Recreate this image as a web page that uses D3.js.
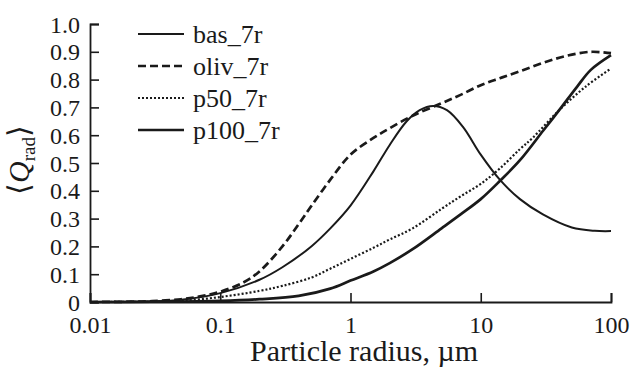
<!DOCTYPE html>
<html>
<head>
<meta charset="utf-8">
<script src="https://cdn.jsdelivr.net/npm/d3@7"></script>
<style>
body { margin: 0; background: #fff; }
text { font-family: "Liberation Serif", "Times New Roman", serif; fill: #1a1a1a; }
</style>
</head>
<body>
<svg id="chart" width="634" height="367"></svg>
<script>
// values (radius in um, <Q_rad>)
var basR  = [0.01, 0.03, 0.05, 0.1, 0.2, 0.3, 0.5, 0.7, 1, 1.5, 2, 2.7, 3.4, 4.3, 5.5, 7.3, 10, 14, 20, 30, 50, 75, 100];
var basQ  = [0, 0.002, 0.008, 0.032, 0.08, 0.125, 0.2, 0.265, 0.347, 0.47, 0.565, 0.65, 0.69, 0.705, 0.69, 0.63, 0.53, 0.44, 0.37, 0.315, 0.268, 0.256, 0.255];

var olivR = [0.01, 0.02, 0.03, 0.05, 0.07, 0.1, 0.15, 0.2, 0.3, 0.4, 0.5, 0.7, 1, 1.5, 2, 3, 5, 7, 10, 14, 20, 30, 45, 70, 100];
var olivQ = [0, 0.001, 0.003, 0.01, 0.02, 0.037, 0.07, 0.11, 0.2, 0.28, 0.345, 0.44, 0.53, 0.59, 0.625, 0.67, 0.715, 0.745, 0.78, 0.805, 0.83, 0.86, 0.885, 0.9, 0.895];

var p50R  = [0.01, 0.03, 0.05, 0.1, 0.2, 0.3, 0.5, 0.7, 1, 1.5, 2, 3, 5, 7, 10, 14, 20, 25, 40, 64, 100];
var p50Q  = [0, 0.001, 0.004, 0.018, 0.04, 0.058, 0.088, 0.12, 0.155, 0.195, 0.225, 0.265, 0.335, 0.38, 0.425, 0.48, 0.55, 0.59, 0.69, 0.775, 0.84];

var p100R = [0.01, 0.03, 0.1, 0.2, 0.4, 0.7, 1, 1.5, 2, 3, 5, 7, 10, 14, 20, 30, 40, 55, 70, 100];
var p100Q = [0, 0.001, 0.004, 0.01, 0.022, 0.048, 0.077, 0.11, 0.14, 0.19, 0.265, 0.315, 0.37, 0.435, 0.51, 0.615, 0.69, 0.775, 0.835, 0.888];

var seriesNames = ["bas_7r", "oliv_7r", "p50_7r", "p100_7r"];
var xTicks = [0.01, 0.1, 1, 10, 100];
var yTicks = [0, 0.1, 0.2, 0.3, 0.4, 0.5, 0.6, 0.7, 0.8, 0.9, 1.0];

var series = [
    {name: seriesNames[0], r: basR,  q: basQ,  width: 2.0, dash: null},
    {name: seriesNames[1], r: olivR, q: olivQ, width: 2.7, dash: "8,4"},
    {name: seriesNames[2], r: p50R,  q: p50Q,  width: 2.2, dash: "2,2"},
    {name: seriesNames[3], r: p100R, q: p100Q, width: 2.7, dash: null}
];

var svg = d3.select("#chart");
var plotLeft = 90, plotRight = 611, plotTop = 24, plotBottom = 302;

var x = d3.scaleLog().domain([0.01, 100]).range([plotLeft, plotRight]);
var y = d3.scaleLinear().domain([0, 1]).range([plotBottom, plotTop]);

// axes, ticks pointing inward
var xAxis = d3.axisBottom(x)
    .tickValues(xTicks)
    .tickSize(-9)
    .tickPadding(14)
    .tickFormat(function (d) { return String(d); });

var yAxis = d3.axisLeft(y)
    .tickValues(yTicks)
    .tickSize(-9)
    .tickPadding(10)
    .tickFormat(function (d) { return d === 0 ? "0" : d3.format(".1f")(d); });

var gx = svg.append("g")
    .attr("transform", "translate(0," + plotBottom + ")")
    .call(xAxis);
var gy = svg.append("g")
    .attr("transform", "translate(" + plotLeft + ",0)")
    .call(yAxis);

[gx, gy].forEach(function (g) {
    g.select(".domain").attr("stroke", "#1a1a1a").attr("stroke-width", 1.8);
    g.selectAll(".tick line").attr("stroke", "#1a1a1a").attr("stroke-width", 1.6);
    g.selectAll(".tick text")
        .style("font-family", "'Liberation Serif', serif")
        .style("font-size", "24px")
        .attr("fill", "#1a1a1a");
});
gx.selectAll(".tick text").attr("dy", "0.72em");
gy.selectAll(".tick text").attr("dy", "0.34em");

// curves
var line = d3.line()
    .x(function (d) { return x(d[0]); })
    .y(function (d) { return y(d[1]); })
    .curve(d3.curveCatmullRom.alpha(0.5));

series.forEach(function (s) {
    var pts = s.r.map(function (r, i) { return [r, s.q[i]]; });
    svg.append("path")
        .datum(pts)
        .attr("d", line)
        .attr("fill", "none")
        .attr("stroke", "#1a1a1a")
        .attr("stroke-width", s.width)
        .attr("stroke-dasharray", s.dash);
});

// legend
var legend = svg.append("g");
series.forEach(function (s, i) {
    var ly = 34 + i * 32;
    legend.append("line")
        .attr("x1", 138).attr("x2", 184)
        .attr("y1", ly).attr("y2", ly)
        .attr("stroke", "#1a1a1a")
        .attr("stroke-width", s.width)
        .attr("stroke-dasharray", s.dash);
    legend.append("text")
        .attr("x", 193).attr("y", ly + 9)
        .style("font-size", "26px")
        .text(s.name);
});

// axis titles
svg.append("text")
    .attr("x", 364).attr("y", 361)
    .attr("text-anchor", "middle")
    .style("font-size", "30px")
    .text("Particle radius, \u00b5m");

var yt = svg.append("text")
    .attr("transform", "translate(29,160) rotate(-90)")
    .attr("text-anchor", "middle")
    .style("font-size", "30px");
yt.append("tspan").text("\u27e8");
yt.append("tspan").style("font-style", "italic").text("Q");
yt.append("tspan").attr("dy", 6).style("font-size", "19px").text("rad");
yt.append("tspan").attr("dy", -6).text("\u27e9");
</script>
</body>
</html>
